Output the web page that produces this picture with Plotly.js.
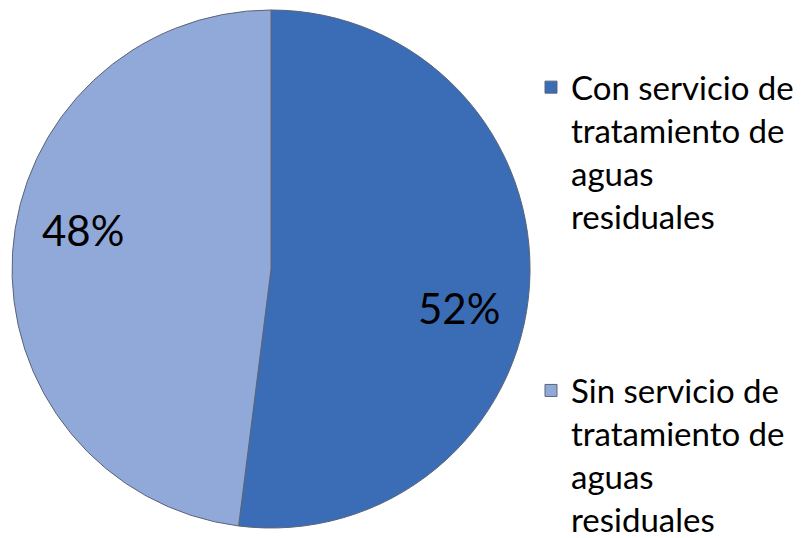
<!DOCTYPE html>
<html><head><meta charset="utf-8">
<script src="https://cdn.plot.ly/plotly-3.0.1.min.js"></script>
<style>html,body{margin:0;padding:0;background:#fff}</style>
</head><body>
<div id="chart" style="width:807px;height:538px"></div>
<script>
const labels = ["Con servicio de<br>tratamiento de<br>aguas<br>residuales<br> <br> <br> ", "Sin servicio de<br>tratamiento de<br>aguas<br>residuales"];
const values = [52, 48];
const colors = ["#3b6db6", "#91a9d8"];

const W = 807, H = 538;
const dom = {x: [0.0149, 0.6568], y: [0.018, 0.982]};
const cx = (dom.x[0] + dom.x[1]) / 2 * W;
const cy = (1 - (dom.y[0] + dom.y[1]) / 2) * H;
const R = Math.min((dom.x[1] - dom.x[0]) * W, (dom.y[1] - dom.y[0]) * H) / 2;
const total = values.reduce((a, b) => a + b, 0);
let acc = 0;
const annotations = values.map(v => {
  const mid = (acc + v / 2) / total * 360 + 8;
  acc += v;
  const t = mid * Math.PI / 180;
  const px = cx + R * 0.74 * Math.sin(t);
  const py = cy - R * 0.74 * Math.cos(t);
  return {x: px / W, y: 1 - py / H, xref: "paper", yref: "paper", showarrow: false,
    xanchor: "center", yanchor: "middle",
    text: Math.round(v / total * 100) + "%",
    font: {family: "Lato, sans-serif", size: 42, color: "#000"}};
});

Plotly.newPlot("chart", [{
  type: "pie",
  labels: labels,
  values: values,
  sort: false,
  direction: "clockwise",
  rotation: 0,
  marker: {colors: colors, line: {color: "#5a6478", width: 1}},
  textinfo: "none",
  domain: dom,
  hoverinfo: "none"
}], {
  width: W, height: H,
  margin: {l: 0, r: 0, t: 0, b: 0, autoexpand: false},
  paper_bgcolor: "#fff",
  showlegend: true,
  annotations: annotations,
  legend: {x: 0.658, y: 0.89, xanchor: "left", yanchor: "top", valign: "top",
    maxheight: 1000,
    font: {family: "Lato, sans-serif", size: 33, color: "#000"}, itemwidth: 30}
}, {displayModeBar: false});
</script>
</body></html>
